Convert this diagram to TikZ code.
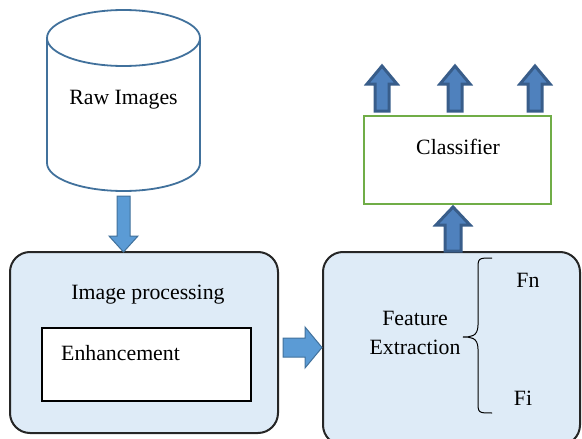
\documentclass[tikz,border=0pt]{standalone}
\usepackage{fontspec}
\setmainfont{Liberation Serif}
\definecolor{cylblue}{HTML}{41719C}
\definecolor{arrfill}{HTML}{5B9BD5}
\definecolor{uparrfill}{HTML}{4F81BD}
\definecolor{uparrline}{HTML}{385D8A}
\definecolor{boxfill}{HTML}{DEEBF7}
\definecolor{clsgreen}{HTML}{70AD47}
\begin{document}
\begin{tikzpicture}[x=1pt,y=-1pt,
  txt/.style={font=\fontsize{21.8}{26}\selectfont, inner sep=0pt, anchor=center},
  bigbox/.style={draw=black!85, line width=2pt, fill=boxfill, rounded corners=20pt},
  blockdown/.style={fill=arrfill, draw=cylblue, line width=1pt},
  blockup/.style={fill=uparrfill, draw=uparrline, line width=3pt, line join=miter},
]
\useasboundingbox (0,0) rectangle (582,439);
% cylinder
\draw[cylblue, line width=1.8pt, fill=white] (47,38) -- (47,163) arc[start angle=180, end angle=0, x radius=76.5, y radius=28] -- (200,38);
\draw[cylblue, line width=1.8pt, fill=white] (123.5,38) ellipse[x radius=76.5, y radius=28];
\node[txt] (raw) at (123.5,100) {Raw Images};
% image processing box
\draw[bigbox] (10,252) rectangle (278,433);
\node[txt] (imgproc) at (148,295) {Image processing};
\draw[black, line width=1.5pt, fill=white] (42,328) rectangle (251,401);
\node[txt, anchor=west] (enh) at (61,353) {Enhancement};
% feature extraction box
\draw[bigbox] (323,252) rectangle (580,445);
\node[txt] (feat) at (415,318) {Feature};
\node[txt] (extr) at (415,347) {Extraction};
\draw[black, line width=1pt] (492,258) .. controls (478,258) and (478,258) .. (478,270) -- (478,325) .. controls (478,337) and (470,337) .. (463,337)
  (463,337) .. controls (470,337) and (478,337) .. (478,349) -- (478,401) .. controls (478,413) and (478,413) .. (492,413);
\node[txt] (fn) at (528,280) {Fn};
\node[txt] (fi) at (523,398) {Fi};
% classifier
\draw[clsgreen, line width=2pt, fill=white] (364,116) rectangle (551,204);
\node[txt] (cls) at (458,147) {Classifier};
% down arrow
\draw[blockdown] (117,196) -- (117,236) -- (109,236) -- (123.5,252) -- (138,236) -- (130,236) -- (130,196) -- cycle;
% right arrow
\draw[blockdown] (283,338) -- (305,338) -- (305,327) -- (322,347.5) -- (305,368) -- (305,357) -- (283,357) -- cycle;
% up arrow into classifier
\draw[blockup] (445,251) -- (445,225) -- (436,225) -- (453,207) -- (470,225) -- (461,225) -- (461,251) -- cycle;
% output arrows
\foreach \cx in {382,455,535}{
  \draw[blockup] (\cx-7,111) -- (\cx-7,84) -- (\cx-15,84) -- (\cx,66) -- (\cx+15,84) -- (\cx+7,84) -- (\cx+7,111) -- cycle;
}
\end{tikzpicture}
\end{document}
